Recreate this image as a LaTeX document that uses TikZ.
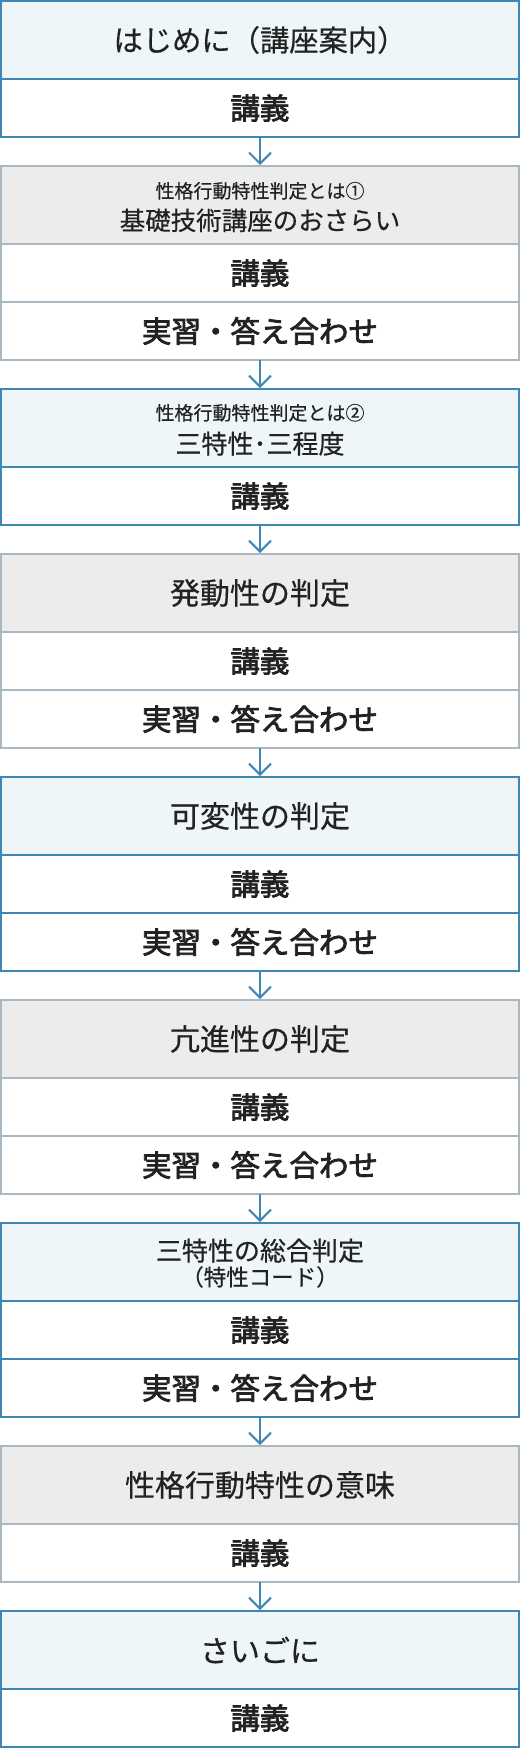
\documentclass[tikz,border=0pt]{standalone}
\usepackage{fontspec}
\setmainfont{Noto Sans CJK JP}
\newfontfamily\hdrfont[FakeBold=0.5]{Noto Sans CJK JP}
\newfontfamily\rowfont[FakeBold=2.6]{Noto Sans CJK JP}
\usetikzlibrary{arrows.meta}
\definecolor{bline}{HTML}{4086B5}
\definecolor{gline}{HTML}{A9B7C1}
\definecolor{bfill}{HTML}{EEF6FA}
\definecolor{gfill}{HTML}{ECECEC}
\definecolor{txt}{HTML}{222222}
\begin{document}
\begin{tikzpicture}[x=1pt,y=1pt,
  cell/.style={draw, line width=2pt, minimum width=518pt, inner sep=0pt, outer sep=0pt, anchor=north, text=txt},
  hb/.style={cell, draw=bline, fill=bfill, minimum height=78pt, font=\hdrfont\fontsize{30}{36}\selectfont},
  hg/.style={cell, draw=gline, fill=gfill, minimum height=78pt, font=\hdrfont\fontsize{30}{36}\selectfont},
  rb/.style={cell, draw=bline, fill=white, minimum height=58pt, font=\rowfont\fontsize{29.5}{35}\selectfont},
  rg/.style={cell, draw=gline, fill=white, minimum height=58pt, font=\rowfont\fontsize{29.5}{35}\selectfont},
  small/.style={anchor=base, inner sep=0pt, text=txt, font=\hdrfont\fontsize{19}{22}\selectfont},
  mid/.style={anchor=base, inner sep=0pt, text=txt, font=\hdrfont\fontsize{26}{30}\selectfont},
  conn/.style={draw=bline, line width=2pt, shorten >=1pt, -{Straight Barb[length=11pt,width=22pt,line width=2pt]}}
]
\useasboundingbox (0,0) rectangle (520,-1748);
% box 1
\node[hb, font=\hdrfont\fontsize{29.3}{35}\selectfont] (h1) at (260,-1) {はじめに（講座案内）};
\node[rb] (r1a) at (260,-79) {講義};
% box 2
\node[hg] (h2) at (260,-166) {};
\node[small] (h2a) at ([yshift=7pt]h2.center) {性格行動特性判定とは①};
\node[mid, font=\hdrfont\fontsize{25.5}{30}\selectfont] (h2b) at ([yshift=-25pt]h2.center) {基礎技術講座のおさらい};
\node[rg] (r2a) at (260,-244) {講義};
\node[rg] (r2b) at (260,-302) {実習・答え合わせ};
% box 3
\node[hb] (h3) at (260,-389) {};
\node[small] (h3a) at ([yshift=8pt]h3.center) {性格行動特性判定とは②};
\node[mid] (h3b) at ([yshift=-25.5pt]h3.center) {三特性･三程度};
\node[rb] (r3a) at (260,-467) {講義};
% box 4
\node[hg] (h4) at (260,-554) {発動性の判定};
\node[rg] (r4a) at (260,-632) {講義};
\node[rg] (r4b) at (260,-690) {実習・答え合わせ};
% box 5
\node[hb] (h5) at (260,-777) {可変性の判定};
\node[rb] (r5a) at (260,-855) {講義};
\node[rb] (r5b) at (260,-913) {実習・答え合わせ};
% box 6
\node[hg] (h6) at (260,-1000) {亢進性の判定};
\node[rg] (r6a) at (260,-1078) {講義};
\node[rg] (r6b) at (260,-1136) {実習・答え合わせ};
% box 7
\node[hb] (h7) at (260,-1223) {};
\node[mid] (h7a) at ([yshift=1.5pt]h7.center) {三特性の総合判定};
\node[mid, font=\hdrfont\fontsize{22.5}{27}\selectfont] (h7b) at ([yshift=-23.5pt]h7.center) {（特性コード）};
\node[rb] (r7a) at (260,-1301) {講義};
\node[rb] (r7b) at (260,-1359) {実習・答え合わせ};
% box 8
\node[hg] (h8) at (260,-1446) {性格行動特性の意味};
\node[rg] (r8a) at (260,-1524) {講義};
% box 9
\node[hb] (h9) at (260,-1611) {さいごに};
\node[rb] (r9a) at (260,-1689) {講義};
% connectors
\draw[conn] (r1a.south) -- (h2.north);
\draw[conn] (r2b.south) -- (h3.north);
\draw[conn] (r3a.south) -- (h4.north);
\draw[conn] (r4b.south) -- (h5.north);
\draw[conn] (r5b.south) -- (h6.north);
\draw[conn] (r6b.south) -- (h7.north);
\draw[conn] (r7b.south) -- (h8.north);
\draw[conn] (r8a.south) -- (h9.north);
\end{tikzpicture}
\end{document}
